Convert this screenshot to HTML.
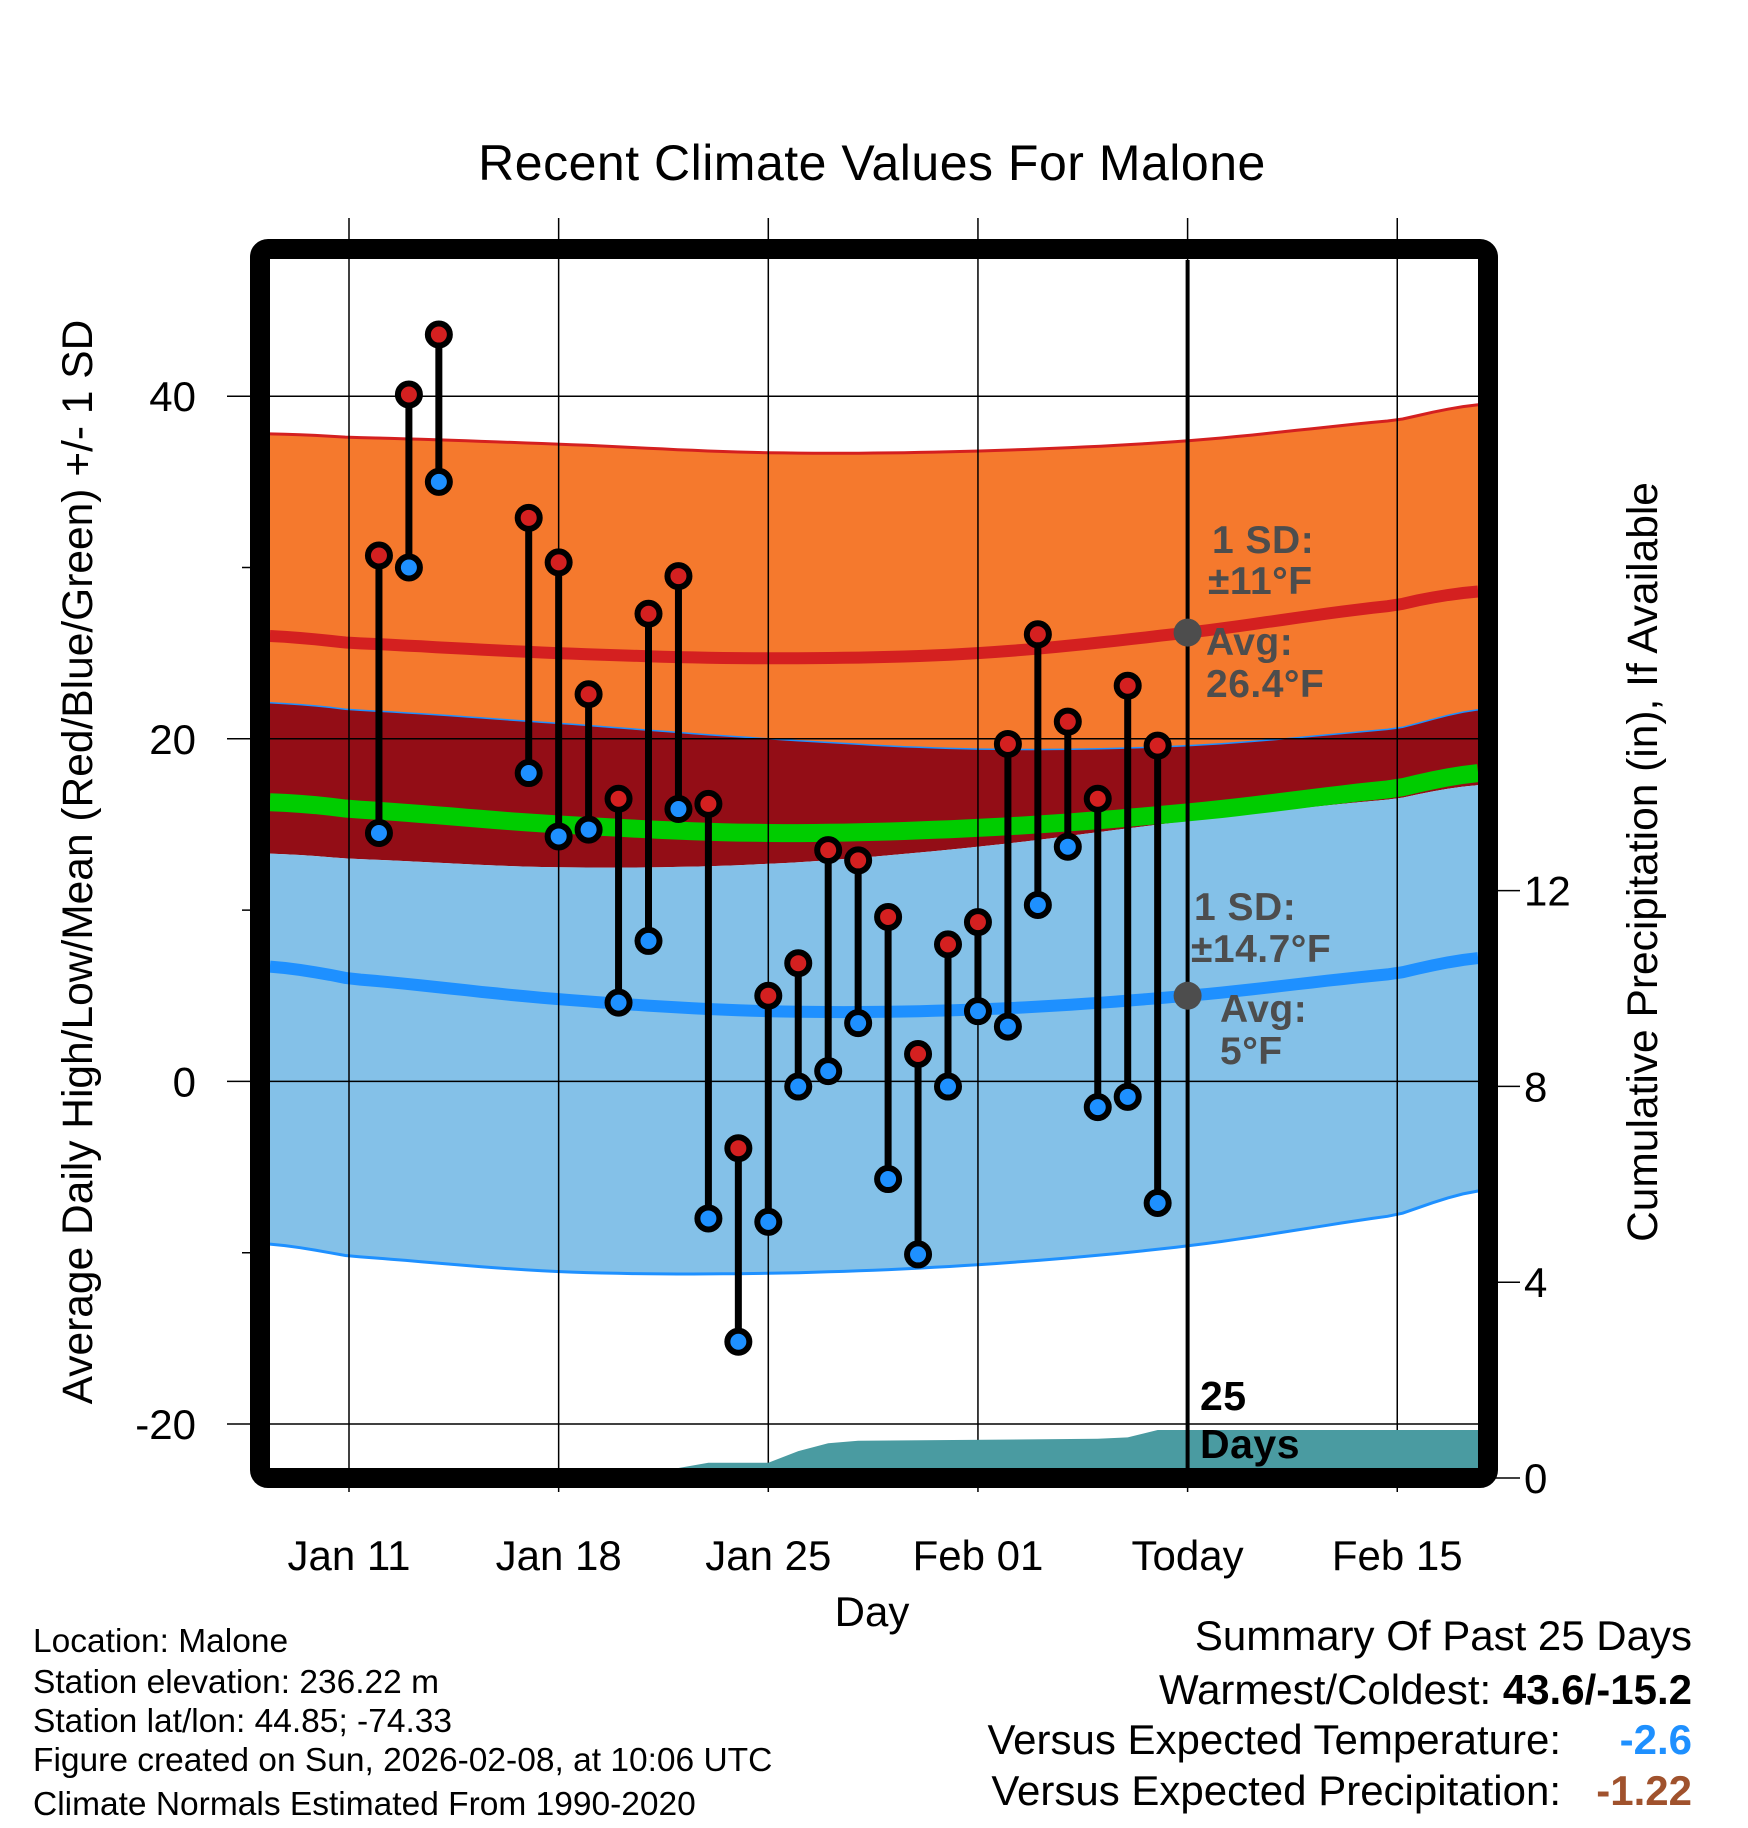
<!DOCTYPE html>
<html><head><meta charset="utf-8"><style>
html,body{margin:0;padding:0;background:#fff}
svg{display:block;font-family:"Liberation Sans",sans-serif}
</style></head><body>
<svg id="chart" width="1748" height="1828" viewBox="0 0 1748 1828" xmlns="http://www.w3.org/2000/svg">
<rect width="1748" height="1828" fill="#fff"/>
<text x="872" y="180" font-size="50" text-anchor="middle" letter-spacing="0.5">Recent Climate Values For Malone</text>
<g id="bands"></g><g id="grid"></g><g id="precip"></g><g id="obs"></g><g id="axes"></g>
<g id="annot" font-weight="bold" fill="#4d4d4d" font-size="39" letter-spacing="0.5">
<text x="1212" y="553">1 SD:</text>
<text x="1208" y="594">±11°F</text>
<text x="1206" y="655">Avg:</text>
<text x="1206" y="697">26.4°F</text>
<text x="1194" y="920">1 SD:</text>
<text x="1191" y="962">±14.7°F</text>
<text x="1220" y="1022">Avg:</text>
<text x="1220" y="1064">5°F</text>
<text x="1200" y="1410" fill="#000" font-size="41">25</text>
<text x="1200" y="1458" fill="#000" font-size="41">Days</text>
</g>
<text x="872" y="1626" font-size="42" text-anchor="middle">Day</text>
<text transform="translate(92,862) rotate(-90)" font-size="42.5" text-anchor="middle">Average Daily High/Low/Mean (Red/Blue/Green) +/- 1 SD</text>
<text transform="translate(1657,862) rotate(-90)" font-size="42.5" text-anchor="middle">Cumulative Precipitation (in), If Available</text>
<g font-size="33.5">
<text x="33" y="1652">Location: Malone</text>
<text x="33" y="1693">Station elevation: 236.22 m</text>
<text x="33" y="1732">Station lat/lon: 44.85; -74.33</text>
<text x="33" y="1771">Figure created on Sun, 2026-02-08, at 10:06 UTC</text>
<text x="33" y="1815">Climate Normals Estimated From 1990-2020</text>
</g>
<g font-size="42">
<text x="1692" y="1650" text-anchor="end">Summary Of Past 25 Days</text>
<text x="1692" y="1704" text-anchor="end">Warmest/Coldest: <tspan font-weight="bold">43.6/-15.2</tspan></text>
<text x="1561" y="1754" text-anchor="end">Versus Expected Temperature:</text>
<text x="1692" y="1754" text-anchor="end" font-weight="bold" fill="#1e90ff">-2.6</text>
<text x="1561" y="1805" text-anchor="end">Versus Expected Precipitation:</text>
<text x="1692" y="1805" text-anchor="end" font-weight="bold" fill="#a0522d">-1.22</text>
</g>
</svg>
<script>
// normals sampled at day offsets from Jan 11
const normDays = [-2.64, 0, 7, 14, 21, 28, 35, 37.7];
const highPlus = [37.8, 37.6, 37.2, 36.7, 36.8, 37.4, 38.6, 39.5];
const highMean = [26.0, 25.6, 25.0, 24.7, 25.0, 26.2, 27.8, 28.6];
const highMinus = [22.1, 21.7, 20.9, 20.0, 19.4, 19.6, 20.6, 21.7];
const meanTemp = [16.3, 15.9, 15.0, 14.5, 14.8, 15.7, 17.1, 18.0];
const lowPlus = [13.3, 13.0, 12.5, 12.7, 13.7, 15.2, 16.5, 17.3];
const lowMean = [6.7, 6.0, 4.8, 4.1, 4.2, 5.0, 6.3, 7.2];
const lowMinus = [-9.5, -10.2, -11.1, -11.2, -10.7, -9.6, -7.8, -6.4];
// observations
const obsDays = [1,2,3,6,7,8,9,10,11,12,13,14,15,16,17,18,19,20,21,22,23,24,25,26,27];
const obsHigh = [30.7,40.1,43.6,32.9,30.3,22.6,16.5,27.3,29.5,16.2,-3.9,5.0,6.9,13.5,12.9,9.6,1.6,8.0,9.3,19.7,26.1,21.0,16.5,23.1,19.6];
const obsLow = [14.5,30.0,35.0,18.0,14.3,14.7,4.6,8.2,15.9,-8.0,-15.2,-8.2,-0.3,0.6,3.4,-5.7,-10.1,-0.3,4.1,3.2,10.3,13.7,-1.5,-0.9,-7.1];
// cumulative precipitation
const precDays = [9,10,11,12,13,14,15,16,17,25,26,27,28,37.7];
const precCum = [0,0.04,0.1,0.31,0.31,0.31,0.55,0.71,0.76,0.8,0.83,0.98,0.98,0.98];
const xTickLabels = ["Jan 11","Jan 18","Jan 25","Feb 01","Today","Feb 15"];
const yTicks = [40,20,0,-20];
const yMinor = [30,10,-10];
const pTicks = [0,4,8,12];
const todayDay = 28;

const NS="http://www.w3.org/2000/svg";
const L=270,R=1478,T=260,B=1468;
const x=d=>349+d*29.95;
const y=v=>1081.4-v*17.13;
const py=v=>1478-v*48.95;
function mk(tag,attrs,parent){const e=document.createElementNS(NS,tag);for(const k in attrs)e.setAttribute(k,attrs[k]);parent.appendChild(e);return e;}
function interp(arr,d){ // catmull-rom through samples
 let i=0;while(i<normDays.length-2&&d>normDays[i+1])i++;
 const t=(d-normDays[i])/(normDays[i+1]-normDays[i]);
 const p0=arr[Math.max(i-1,0)],p1=arr[i],p2=arr[i+1],p3=arr[Math.min(i+2,arr.length-1)];
 return 0.5*((2*p1)+(-p0+p2)*t+(2*p0-5*p1+4*p2-p3)*t*t+(-p0+3*p1-3*p2+p3)*t*t*t);}
const bands=document.getElementById('bands');
function pts(arr){const out=[];const a=normDays[0],b=normDays[normDays.length-1];
 for(let k=0;k<=80;k++){const d=a+(b-a)*k/80;out.push(x(d).toFixed(1)+','+y(interp(arr,d)).toFixed(1));}return out;}
function band(up,lo,fill,name){const p=pts(up).concat(pts(lo).reverse()).join(' ');const e=mk('polygon',{points:p,fill:fill},bands);

}
function line(arr,color,w,name){const e=mk('polyline',{points:pts(arr).join(' '),fill:'none',stroke:color,'stroke-width':w},bands);

}
band(highPlus,highMinus,'#f5792d','high-sd-band');
band(highMinus,lowPlus,'#930d16','overlap-band');
band(lowPlus,lowMinus,'#84c1e8','low-sd-band');
line(highPlus,'#d42020',3,'high-plus-sd-line');
line(highMinus,'#1e90ff',1.5,'high-minus-sd-line');
line(lowMinus,'#1e90ff',3,'low-minus-sd-line');
line(highMean,'#d42020',12,'high-mean-line');
line(lowMean,'#1e90ff',12,'low-mean-line');
line(meanTemp,'#00cc00',18,'mean-temp-line');

const grid=document.getElementById('grid');
xTickLabels.forEach((lab,i)=>{const gx=x(i*7);
 const g=mk('line',{x1:gx,x2:gx,y1:218,y2:1492,stroke:'#000','stroke-width':1.5},grid);
 
 
 const t=mk('text',{x:gx,y:1570,'font-size':42,'text-anchor':'middle'},grid);t.textContent=lab;
 
 });
yTicks.forEach(v=>{const gy=y(v);
 const g=mk('line',{x1:227,x2:R,y1:gy,y2:gy,stroke:'#000','stroke-width':1.5},grid);
 
 
 const t=mk('text',{x:196,y:gy+15,'font-size':42,'text-anchor':'end'},grid);t.textContent=v;
 
 });
yMinor.forEach(v=>{const gy=y(v);const g=mk('line',{x1:242,x2:262,y1:gy,y2:gy,stroke:'#000','stroke-width':1.5},grid);
 
 });
pTicks.forEach(v=>{const gy=py(v);
 const g=mk('line',{x1:1488,x2:1520,y1:gy,y2:gy,stroke:'#000','stroke-width':1.5},grid);
 
 
 const t=mk('text',{x:1524,y:gy+15,'font-size':42},grid);t.textContent=v;
 
 });

const prec=document.getElementById('precip');
let pp=precDays.map((d,i)=>x(d).toFixed(1)+','+Math.min(py(precCum[i]),B).toFixed(1));
pp.push(x(precDays[precDays.length-1]).toFixed(1)+','+B);pp.push(x(precDays[0]).toFixed(1)+','+B);
const pa=mk('polygon',{points:pp.join(' '),fill:'#4a9ba1'},prec);



const obs=document.getElementById('obs');
const tl=mk('line',{x1:x(todayDay),x2:x(todayDay),y1:T,y2:B,stroke:'#000','stroke-width':4},obs);


[[highMean,'high-avg-marker'],[lowMean,'low-avg-marker']].forEach(([arr,nm])=>{
 const v=interp(arr,todayDay);
 const c=mk('circle',{cx:x(todayDay),cy:y(v),r:14,fill:'#4d4d4d'},obs);
 
 });
obsDays.forEach((d,i)=>{const cx=x(d);
 const s=mk('line',{x1:cx,x2:cx,y1:y(obsHigh[i]),y2:y(obsLow[i]),stroke:'#000','stroke-width':7},obs);
 
 
 const h=mk('circle',{cx:cx,cy:y(obsHigh[i]),r:11,fill:'#d42020',stroke:'#000','stroke-width':6},obs);
 
 
 const l=mk('circle',{cx:cx,cy:y(obsLow[i]),r:11,fill:'#1e90ff',stroke:'#000','stroke-width':6},obs);
 
 });

const axes=document.getElementById('axes');
const fr=mk('rect',{x:260,y:249,width:1228,height:1229,rx:8,fill:'none',stroke:'#000','stroke-width':20},axes);


</script>
</body></html>
